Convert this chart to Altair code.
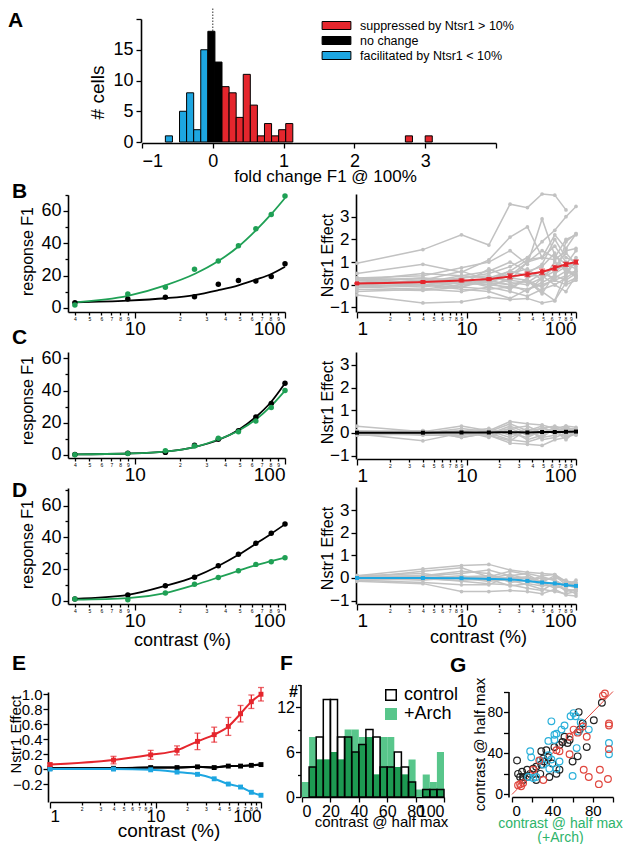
import altair as alt
import pandas as pd

W, H = 616, 836
FONT = "Liberation Sans"
RED = "#E5262D"
BLUE = "#1DA6E1"
GREEN = "#1FA055"
GRAY = "#C2C2C2"
ARCH_LIGHT = "#58C68B"
ARCH_DARK = "#1D9A52"
G_RED = "#E0473F"
G_CYAN = "#2AB0DA"
TITLE_GREEN = "#2DB36B"

CONTRAST = [1, 4, 9, 16, 25, 36, 49, 64, 81, 100]
CONTRAST_B = [4, 9, 16, 25, 36, 49, 64, 81, 100]
LOG_TICKS_LEFT = [4, 5, 6, 7, 8, 9, 10, 20, 30, 40, 50, 60, 70, 80, 90, 100]
LOG_TICKS_FULL = [1, 2, 3, 4, 5, 6, 7, 8, 9, 10, 20, 30, 40, 50, 60, 70, 80, 90, 100]

# ---------------- Panel A : histogram of fold change
A_GROUPS = ["suppressed by Ntsr1 > 10%", "no change", "facilitated by Ntsr1 < 10%"]
A_BIN_START = [-0.67, -0.47, -0.37, -0.27, -0.17, -0.07, 0.03, 0.13, 0.23, 0.33,
               0.43, 0.53, 0.63, 0.73, 0.83, 0.93, 1.03, 2.72, 3.0]
A_COUNT = [1, 5, 8, 2, 15, 18, 13, 9, 8, 4, 11, 6, 1, 3, 1, 2, 3, 1, 1]
A_GROUP = [2, 2, 2, 2, 2, 1, 1, 0, 0, 0, 0, 0, 0, 0, 0, 0, 0, 0, 0]
A_BIN_WIDTH = 0.1
A_DOT_TOP = 22.3

# ---------------- Panels B-D left: response F1 (control black, +Arch green)
B_CTRL = [3.3, 5.6, 6.6, 7.0, 14.6, 17.0, 16.6, 19.4, 27.4]
B_ARCH = [1.9, 8.6, 12.8, 24.0, 29.0, 38.5, 49.0, 57.8, 69.3]
B_CTRL_FIT = [3.5, 4.5, 6.0, 8.0, 11.0, 14.0, 17.5, 21.0, 25.5]
B_ARCH_FIT = [3.5, 7.5, 14.0, 21.0, 29.0, 38.0, 48.0, 58.0, 68.0]

C_CTRL = [0.2, 0.9, 1.5, 6.0, 9.7, 15.0, 23.5, 32.0, 44.5]
C_ARCH = [0.0, 0.8, 2.5, 5.5, 10.3, 14.3, 21.0, 29.4, 40.0]
C_CTRL_FIT = [0.3, 0.8, 2.0, 4.8, 9.2, 15.5, 23.5, 33.0, 44.5]
C_ARCH_FIT = [0.3, 0.8, 2.0, 4.8, 9.5, 15.0, 22.0, 30.5, 40.0]

D_CTRL = [1.2, 3.8, 9.6, 14.9, 22.2, 29.3, 36.3, 42.6, 48.4]
D_ARCH = [1.2, 0.8, 5.0, 10.5, 14.7, 19.0, 23.0, 24.7, 27.2]
D_CTRL_FIT = [1.3, 3.8, 9.5, 15.2, 22.0, 29.0, 36.0, 42.3, 48.2]
D_ARCH_FIT = [0.8, 1.8, 5.0, 10.0, 14.8, 19.0, 22.6, 25.0, 27.2]

# ---------------- Panels B-D right: Nstr1 effect per cell (grey) + population mean
B_LINES = [
    [0.95, 1.55, 2.2, 1.75, 3.55, 3.4, 4.0, 3.95, 3.3, None],
    [0.5, 0.9, 0.55, 1.1, 2.1, 2.55, 1.2, 2.2, 1.6, 2.25],
    [0.3, 0.4, 0.75, 1.0, 1.5, 0.9, 2.9, 1.3, 0.9, 1.5],
    [0.2, 0.1, 0.3, 0.5, 0.8, 1.2, 1.9, 2.4, 3.0, 3.45],
    [-0.45, -0.8, -0.75, -0.55, -0.65, -0.6, -0.8, -0.7, 0.1, 0.3],
    [0.1, 0.0, 0.2, 0.1, 0.4, 1.0, 1.5, 1.2, 2.0, 2.2],
    [-0.2, -0.25, -0.1, -0.2, -0.1, 0.2, -0.3, -0.7, 0.5, 1.2],
    [0.0, 0.2, 0.6, 0.2, 0.0, -0.3, 0.3, 0.8, 1.4, 0.9],
    [0.1, 0.3, 0.0, 0.7, 0.3, 0.5, 0.9, 2.0, 1.2, 1.0],
    [-0.1, 0.0, -0.2, -0.3, -0.6, -0.2, 0.1, 0.4, 0.2, 0.5],
    [0.2, 0.5, 0.4, 0.3, 0.6, 1.1, 1.2, 1.7, 1.0, 0.8],
    [0.0, -0.1, 0.1, 0.0, 0.2, 0.1, 0.5, 0.3, 0.6, 0.4],
    [-0.3, -0.2, -0.3, -0.1, -0.3, -0.5, -0.2, 0.0, 0.3, 0.6],
    [0.1, 0.1, 0.3, 0.4, 0.1, 0.0, 0.3, 0.6, 0.9, 0.7],
    [0.0, 0.2, -0.1, 0.2, 0.5, 0.7, 0.2, 1.0, 0.7, 0.4],
    [-0.1, -0.2, 0.0, 0.1, -0.2, 0.3, 0.6, 0.2, 0.4, 1.1],
    [0.2, 0.3, 0.2, -0.1, 0.3, 0.2, -0.4, 0.5, 0.8, 0.3],
    [0.05, 0.1, 0.4, 0.6, 1.0, 0.6, 0.8, 1.4, 0.5, 0.6],
    [-0.05, 0.0, 0.1, 0.0, -0.1, -0.2, 0.0, 0.2, 0.0, 0.2],
    [0.1, 0.0, -0.1, 0.3, 0.2, 1.0, 1.2, 1.1, 1.5, 1.6],
    [0.3, 0.2, 0.1, 0.2, 0.6, 0.4, 0.4, 0.0, -0.3, 0.4],
    [0.0, 0.1, 0.2, 0.1, 0.0, 0.2, -0.1, 0.3, 1.9, 2.25],
]
C_LINES = [
    [0.3, 0.05, 0.3, 0.1, 0.5, 0.4, 0.35, 0.2, 0.3, 0.25],
    [-0.05, -0.35, 0.0, -0.1, -0.45, -0.5, -0.55, -0.3, -0.2, -0.05],
    [0.0, 0.0, 0.2, 0.05, 0.4, 0.1, 0.2, 0.3, 0.15, 0.2],
    [0.05, 0.1, -0.2, 0.0, -0.3, -0.4, -0.2, -0.1, 0.2, 0.0],
    [-0.1, 0.0, 0.1, -0.2, 0.2, 0.3, 0.0, 0.25, -0.1, 0.1],
    [0.0, -0.1, -0.1, 0.1, 0.0, -0.2, 0.1, 0.0, 0.3, 0.05],
    [0.1, 0.05, 0.05, 0.2, -0.1, 0.2, -0.3, -0.2, 0.0, -0.05],
    [-0.05, -0.05, 0.0, -0.05, 0.3, 0.0, 0.2, 0.1, -0.3, 0.1],
    [0.0, 0.1, -0.2, 0.0, 0.1, -0.3, -0.1, 0.2, 0.1, -0.1],
    [0.05, 0.0, 0.1, 0.1, -0.2, 0.1, 0.3, -0.1, 0.2, 0.15],
    [0.0, 0.0, -0.1, 0.0, 0.2, -0.1, 0.0, 0.1, -0.2, 0.05],
    [-0.1, -0.05, 0.05, -0.1, -0.35, 0.15, -0.2, 0.2, 0.1, 0.0],
]
D_LINES = [
    [0.1, 0.4, 0.55, 0.6, 0.35, 0.25, 0.2, 0.15, -0.2, -0.3],
    [-0.15, -0.25, -0.6, -0.6, -0.55, -0.6, -0.7, -0.5, -0.75, -0.8],
    [0.0, 0.3, 0.45, 0.05, 0.3, 0.15, -0.2, 0.1, -0.3, -0.45],
    [0.05, 0.0, 0.1, -0.1, -0.1, -0.3, -0.5, -0.6, -0.7, -0.6],
    [-0.1, -0.2, -0.3, -0.3, 0.1, 0.2, 0.05, -0.1, -0.4, -0.3],
    [0.0, 0.1, 0.3, 0.2, -0.2, -0.1, -0.3, -0.35, -0.5, -0.7],
    [0.1, 0.05, 0.0, 0.05, 0.0, -0.15, 0.1, 0.15, -0.15, -0.2],
    [-0.05, 0.0, -0.15, -0.25, -0.3, -0.45, -0.55, -0.2, -0.6, -0.5],
    [0.0, -0.1, 0.05, 0.1, -0.05, 0.0, -0.2, -0.45, -0.3, -0.25],
    [0.05, 0.1, 0.2, 0.35, 0.1, -0.2, -0.1, 0.0, -0.1, -0.35],
    [-0.1, -0.05, -0.1, -0.05, -0.35, -0.25, -0.35, -0.3, -0.5, -0.55],
    [0.0, 0.0, 0.0, -0.15, 0.0, 0.05, -0.15, -0.25, -0.25, -0.4],
    [0.1, 0.2, -0.05, 0.0, 0.15, -0.05, 0.0, -0.1, -0.35, -0.1],
]

# ---------------- Panel E: population means
E_RED = [0.06, 0.12, 0.19, 0.25, 0.37, 0.46, 0.57, 0.74, 0.90, 1.00]
E_RED_SEM = [0.02, 0.05, 0.06, 0.06, 0.11, 0.10, 0.12, 0.11, 0.09, 0.09]
E_BLACK = [0.01, 0.01, 0.02, 0.02, 0.03, 0.02, 0.04, 0.04, 0.05, 0.06]
E_BLUE = [0.0, 0.0, -0.01, -0.04, -0.07, -0.13, -0.20, -0.24, -0.31, -0.35]

# ---------------- Panel F: contrast @ half max histograms
F_BIN_START = [0, 5, 10, 15, 20, 25, 30, 35, 40, 45, 50, 55, 60, 65, 70, 75, 80, 85, 90, 95]
F_CONTROL = [0, 4, 8, 13, 13, 8, 8, 6, 7, 9, 8, 4, 4, 6, 4, 2, 0, 1, 1, 1]
F_ARCH = [2, 8, 5, 5, 6, 5, 9, 9, 8, 8, 3, 8, 8, 4, 3, 5, 1, 3, 2, 6]
F_SERIES = ["control", "+Arch"]
F_BIN_WIDTH = 5

# ---------------- Panel G: scatter
G_BLACK_X = [89, 66, 81, 70, 67, 57, 55, 50, 47, 42, 34, 29, 36, 31, 32, 29, 24, 21, 15, 10,
             6, 8, 11, 15, 18, 5, 65, 74, 60, 44, 37, 28, 47, 24, 11, 40, 52]
G_BLACK_Y = [89, 80, 72, 69, 63, 53, 50, 51, 48, 46, 43, 42, 36, 35, 32, 29, 27, 25, 24, 22,
             20, 17, 17, 17, 20, 33, 37, 46, 32, 20, 17, 20, 24, 14, 14, 30, 56]
G_CYAN_X = [39, 58, 61, 63, 68, 66, 76, 52, 42, 44, 42, 36, 49, 18, 19, 16, 21, 24, 28, 39,
            44, 47, 64, 60, 96, 96, 36, 31, 37]
G_CYAN_Y = [71, 76, 79, 76, 70, 61, 63, 67, 58, 59, 53, 52, 63, 42, 36, 17, 16, 17, 33, 34,
            25, 32, 45, 18, 50, 39, 38, 29, 25]
G_RED_X = [92, 90, 96, 96, 96, 87, 95, 86, 76, 71, 57, 47, 44, 31, 11, 6, 8, 27, 21, 57,
           65, 61, 74, 70, 9]
G_RED_Y = [98, 96, 69, 67, 44, 24, 15, 10, 17, 24, 39, 42, 43, 14, 11, 9, 10, 33, 24, 56,
           60, 63, 56, 66, 8]
G_DIAG = [0, 100]

PANEL_LETTERS = ["A", "B", "C", "D", "E", "F", "G"]

# ---------------- layout (pixel geometry, chart coordinates)
LETTER_POS = {"A": (0, 19), "B": (4, 190), "C": (4, 336), "D": (4, 489),
              "E": (4, 662), "F": (272, 662), "G": (442, 664)}


def lin_scale(lo, hi, r0, r1):
    return alt.Scale(domain=[lo, hi], range=[r0, r1], nice=False, zero=False)


def log_scale(lo, hi, r0, r1):
    return alt.Scale(type="log", domain=[lo, hi], range=[r0, r1], nice=False)


MAJOR = "datum.value == 1 || datum.value == 10 || datum.value == 100"


def bottom_axis(y_line, title=None, title_pos=None, title_size=17, **kw):
    if title_pos is not None:
        kw.setdefault("titleBaseline", "middle")
        kw.update(titleX=title_pos[0], titleY=title_pos[1] - y_line, titleAlign="center")
    return alt.Axis(orient="bottom", offset=y_line - H, title=title, titleFontSize=title_size,
                    labelOverlap=False, **kw)


def left_axis(x_line, title=None, title_pos=None, title_size=16, **kw):
    if title_pos is not None:
        kw.setdefault("titleBaseline", "middle")
        kw.update(titleX=title_pos[0] - x_line, titleY=title_pos[1], titleAlign="center")
    return alt.Axis(orient="left", offset=-x_line, title=title, titleFontSize=title_size,
                    labelOverlap=False, **kw)


def log_x_axis(y_line, values, big, title=None, title_pos=None, title_size=18, major_pad=1):
    return bottom_axis(
        y_line, title, title_pos, title_size, values=values,
        labelExpr=f"({MAJOR}) ? format(datum.value, 'd') : "
                  "format(round(datum.value / pow(10, floor(log(datum.value) / LN10 + 0.000001))), 'd')",
        labelFontSize={"condition": {"test": MAJOR, "value": big}, "value": 5},
        labelPadding={"condition": {"test": MAJOR, "value": major_pad}, "value": 1},
        tickSize={"condition": {"test": MAJOR, "value": 6}, "value": 3},
        labelBaseline="top")


units = []

# ---------------- Panel A
xsA = lin_scale(-1, 4, 134, 488)
ysA = lin_scale(0, 20, 134, 11)
dfA = pd.DataFrame({"start": A_BIN_START, "count": A_COUNT,
                    "group": [A_GROUPS[g] for g in A_GROUP]})
units.append(alt.Chart(pd.DataFrame({"x": [0], "y0": [0], "y1": [A_DOT_TOP]})).mark_rule(
    color="#333333", strokeWidth=1, strokeDash=[1.5, 1.5]).encode(
    x=alt.X("x:Q", scale=xsA, axis=bottom_axis(
        135, "fold change F1 @ 100%", (317, 168), 17, values=[-1, 0, 1, 2, 3, 4],
        labelExpr="datum.value == 4 ? '' : datum.label", labelFontSize=18, tickSize=5,
        labelPadding=4)),
    y=alt.Y("y0:Q", scale=ysA, axis=left_axis(
        133, "# cells", (89, 84), 19, values=[0, 5, 10, 15, 20],
        labelExpr="datum.value == 20 ? '' : datum.label", labelFontSize=18, tickSize=5,
        labelPadding=3)),
    y2="y1:Q"))
units.append(alt.Chart(dfA).transform_calculate(
    end=f"datum.start + {A_BIN_WIDTH}", base="0").mark_bar(
    stroke="black", strokeWidth=1, opacity=1).encode(
    x=alt.X("start:Q", scale=xsA, axis=None),
    x2="end:Q",
    y=alt.Y("count:Q", scale=ysA, axis=None),
    y2="base:Q",
    color=alt.Color("group:N", scale=alt.Scale(domain=A_GROUPS, range=[RED, "black", BLUE]),
                    legend=alt.Legend(orient="none", legendX=320, legendY=9, title=None,
                                      symbolType="M-1.8,-0.5H1.8V0.5H-1.8Z", symbolSize=256,
                                      symbolStrokeColor="black", symbolStrokeWidth=1,
                                      symbolOpacity=1, labelFontSize=12.5, labelFont=FONT,
                                      labelLimit=0, labelOffset=15, rowPadding=0, padding=0))))


# ---------------- response panels (left)
def response_panel(ctrl, arch, ctrl_fit, arch_fit, ydom, yrange, yvalues, ytitle_y,
                   x_title=None):
    xs = log_scale(3.6, 100, 60, 277)
    ys = lin_scale(ydom[0], ydom[1], yrange[0], yrange[1])
    df = pd.DataFrame({"c": CONTRAST_B, "ctrl": ctrl, "arch": arch,
                       "ctrl_fit": ctrl_fit, "arch_fit": arch_fit})
    base = alt.Chart(df)
    xa = log_x_axis(yrange[0], LOG_TICKS_LEFT, 19, x_title, (174, 632), 18)
    major = "datum.value % 20 == 0"
    ya = left_axis(60, "response F1", (19.5, ytitle_y), 16, values=yvalues,
                   labelExpr=f"({major}) ? datum.label : ''", labelFontSize=18, labelPadding=2,
                   tickSize={"condition": {"test": major, "value": 5}, "value": 3})
    return [
        base.mark_line(color="black", strokeWidth=1.8, interpolate="monotone").encode(
            x=alt.X("c:Q", scale=xs, axis=xa), y=alt.Y("ctrl_fit:Q", scale=ys, axis=ya)),
        base.mark_line(color=GREEN, strokeWidth=1.8, interpolate="monotone").encode(
            x=alt.X("c:Q", scale=xs, axis=None), y=alt.Y("arch_fit:Q", scale=ys, axis=None)),
        base.mark_circle(color="black", size=30, opacity=1).encode(
            x=alt.X("c:Q", scale=xs, axis=None), y=alt.Y("ctrl:Q", scale=ys, axis=None)),
        base.mark_circle(color=GREEN, size=30, opacity=1).encode(
            x=alt.X("c:Q", scale=xs, axis=None), y=alt.Y("arch:Q", scale=ys, axis=None)),
    ]


def mean_layers(xs, ys, mean, color, sem=None, size=20, width=2):
    data = {"c": CONTRAST, "m": mean}
    if sem is not None:
        data["s"] = sem
    base = alt.Chart(pd.DataFrame(data))
    out = [
        base.mark_line(color=color, strokeWidth=width, interpolate="monotone").encode(
            x=alt.X("c:Q", scale=xs, axis=None), y=alt.Y("m:Q", scale=ys, axis=None)),
        base.mark_point(shape="square", filled=True, size=size, color=color, opacity=1).encode(
            x=alt.X("c:Q", scale=xs, axis=None), y=alt.Y("m:Q", scale=ys, axis=None)),
    ]
    if sem is not None:
        eb = base.transform_calculate(lo="datum.m - datum.s", hi="datum.m + datum.s")
        out += [
            eb.mark_rule(color=color, strokeWidth=1.3).encode(
                x=alt.X("c:Q", scale=xs, axis=None), y=alt.Y("lo:Q", scale=ys, axis=None),
                y2="hi:Q"),
            eb.mark_tick(color=color, orient="horizontal", size=6, thickness=1.3).encode(
                x=alt.X("c:Q", scale=xs, axis=None), y=alt.Y("lo:Q", scale=ys, axis=None)),
            eb.mark_tick(color=color, orient="horizontal", size=6, thickness=1.3).encode(
                x=alt.X("c:Q", scale=xs, axis=None), y=alt.Y("hi:Q", scale=ys, axis=None)),
        ]
    return out


# ---------------- effect panels (right)
def effect_panel(lines, mean, color, ydom, yrange, ytitle_y, sem=None, x_title=None):
    xs = log_scale(1, 100, 349, 568)
    ys = lin_scale(ydom[0], ydom[1], yrange[0], yrange[1])
    rows = []
    for i, line in enumerate(lines):
        for c, v in zip(CONTRAST, line):
            if v is not None:
                rows.append({"id": i, "c": c, "v": v})
    dl = pd.DataFrame(rows)
    xa = log_x_axis(yrange[0], LOG_TICKS_FULL, 19, x_title, (470, 629), 18)
    ya = left_axis(348, "Nstr1 Effect", (319.5, ytitle_y), 16, values=[-1, 0, 1, 2, 3],
                   labelFontSize=17, labelPadding=2, tickSize=5)
    return [
        alt.Chart(dl).mark_line(color=GRAY, strokeWidth=1.5).encode(
            x=alt.X("c:Q", scale=xs, axis=xa), y=alt.Y("v:Q", scale=ys, axis=ya),
            detail="id:N"),
        alt.Chart(dl).mark_circle(color=GRAY, size=14, opacity=1).encode(
            x=alt.X("c:Q", scale=xs, axis=None), y=alt.Y("v:Q", scale=ys, axis=None)),
    ] + mean_layers(xs, ys, mean, color, sem, size=16)


units += response_panel(B_CTRL, B_ARCH, B_CTRL_FIT, B_ARCH_FIT, (-2.5, 70), (304, 186.8),
                        [0, 10, 20, 30, 40, 50, 60, 70], 243)
units += response_panel(C_CTRL, C_ARCH, C_CTRL_FIT, C_ARCH_FIT, (-2, 64), (450, 344),
                        [0, 10, 20, 30, 40, 50, 60], 392)
units += response_panel(D_CTRL, D_ARCH, D_CTRL_FIT, D_ARCH_FIT, (-1.9, 71), (596, 480),
                        [0, 10, 20, 30, 40, 50, 60, 70], 536, x_title="contrast (%)")
units += effect_panel(B_LINES, E_RED, RED, (-1.2, 4.0), (304, 186), 247, sem=E_RED_SEM)
units += effect_panel(C_LINES, E_BLACK, "black", (-1.15, 3.57), (451, 344), 394)
units += effect_panel(D_LINES, E_BLUE, BLUE, (-1.15, 4.02), (596, 479), 540,
                      x_title="contrast (%)")

# ---------------- Panel E
xsE = log_scale(1, 100, 42, 253)
ysE = lin_scale(-0.44, 1.03, 794, 684)
units.append(alt.Chart(pd.DataFrame({"c": CONTRAST, "m": E_BLACK})).mark_line(
    color="black", strokeWidth=2).encode(
    x=alt.X("c:Q", scale=xsE, axis=log_x_axis(794, LOG_TICKS_FULL, 17, "contrast (%)",
                                              (160.5, 822), 19, major_pad=0)),
    y=alt.Y("m:Q", scale=ysE, axis=left_axis(
        40, "Nstr1 Effect", (12, 726), 15, titleBaseline="alphabetic",
        values=[-0.2, 0, 0.2, 0.4, 0.6, 0.8, 1.0],
        labelExpr="datum.value == 0 ? '0' : format(datum.value, '.1f')",
        labelFontSize=15, labelPadding=1, tickSize=5))))
units += mean_layers(xsE, ysE, E_BLACK, "black", size=24)
units += mean_layers(xsE, ysE, E_BLUE, BLUE, size=24)
units += mean_layers(xsE, ysE, E_RED, RED, E_RED_SEM, size=24)

# ---------------- Panel F
xsF = lin_scale(0, 100, 294, 436)
ysF = lin_scale(0, 15, 789, 676.5)
dfF = pd.DataFrame({"start": F_BIN_START, "control": F_CONTROL, "arch": F_ARCH})
baseF = alt.Chart(dfF).transform_calculate(
    end=f"datum.start + {F_BIN_WIDTH}", both="min(datum.control, datum.arch)",
    series="'control'", base="0")
fmajor = "datum.value % 6 == 0"
units.append(baseF.mark_bar(color=ARCH_LIGHT, opacity=1).encode(
    x=alt.X("start:Q", scale=xsF, axis=bottom_axis(
        789, "contrast @ half max", (373, 813), 15, values=[0, 20, 40, 60, 80, 100],
        labelFontSize=16, tickSize=5, labelPadding=1)),
    x2="end:Q",
    y=alt.Y("arch:Q", scale=ysF, axis=alt.Axis(
        orient="left", offset=-292.5, values=[0, 3, 6, 9, 12, 15],
        labelExpr=f"({fmajor}) ? datum.label : ''",
        tickSize={"condition": {"test": fmajor, "value": 5}, "value": 3},
        labelFontSize=16, labelPadding=1, title="#", titleAngle=0, titleFontSize=16,
        titleFontWeight="bold", titleX=-7.5, titleY=683, titleAlign="center",
        titleBaseline="middle")),
    y2="base:Q"))
units.append(baseF.mark_bar(color=ARCH_DARK, opacity=1).encode(
    x=alt.X("start:Q", scale=xsF, axis=None), x2="end:Q",
    y=alt.Y("both:Q", scale=ysF, axis=None), y2="base:Q"))
fLegend = alt.Legend(orient="none", legendX=374, legendY=678, title=None, symbolType="square",
                     symbolSize=110, symbolStrokeWidth=1.5, labelFontSize=18, labelFont=FONT,
                     labelOffset=4, rowPadding=1, padding=0)
units.append(baseF.transform_filter("datum.control > 0").mark_bar(strokeWidth=1.5).encode(
    x=alt.X("start:Q", scale=xsF, axis=None), x2="end:Q",
    y=alt.Y("control:Q", scale=ysF, axis=None), y2="base:Q",
    fill=alt.Fill("series:N", scale=alt.Scale(domain=F_SERIES, range=["transparent", ARCH_LIGHT]),
                  legend=fLegend),
    stroke=alt.Stroke("series:N", scale=alt.Scale(domain=F_SERIES, range=["black", ARCH_LIGHT]),
                      legend=fLegend)))

# ---------------- Panel G
xsG = lin_scale(0, 100, 504, 605)
ysG = lin_scale(-2.5, 100, 789, 683.5)
dfG = pd.concat([
    pd.DataFrame({"x": G_BLACK_X, "y": G_BLACK_Y, "s": "black"}),
    pd.DataFrame({"x": G_CYAN_X, "y": G_CYAN_Y, "s": "cyan"}),
    pd.DataFrame({"x": G_RED_X, "y": G_RED_Y, "s": "red"}),
])
gmajor = "datum.value % 40 == 0"
units.append(alt.Chart(pd.DataFrame({"a": [G_DIAG[0]], "b": [G_DIAG[1]]})).mark_rule(
    color=G_RED, strokeWidth=1).encode(
    x=alt.X("a:Q", scale=xsG, axis=bottom_axis(
        789, ["contrast @ half max", "(+Arch)"], (552, 815), 14, values=[0, 20, 40, 60, 80, 100],
        labelExpr=f"({gmajor}) ? datum.label : ''", titleColor=TITLE_GREEN,
        titleLineHeight=14, labelFontSize=15, tickSize=5, labelPadding=1)),
    x2="b:Q",
    y=alt.Y("a:Q", scale=ysG, axis=left_axis(
        500.5, "contrast @ half max", (471, 736), 15, values=[0, 20, 40, 60, 80, 100],
        labelExpr=f"({gmajor}) ? datum.label : ''", labelFontSize=14, tickSize=5,
        labelPadding=1)),
    y2="b:Q"))
units.append(alt.Chart(dfG).mark_point(filled=False, size=45, strokeWidth=1.2, opacity=1).encode(
    x=alt.X("x:Q", scale=xsG, axis=None), y=alt.Y("y:Q", scale=ysG, axis=None),
    color=alt.Color("s:N", scale=alt.Scale(domain=["black", "cyan", "red"],
                                           range=["#222222", G_CYAN, G_RED]), legend=None)))

# ---------------- panel letters
for L in PANEL_LETTERS:
    px, py = LETTER_POS[L]
    units.append(alt.Chart(pd.DataFrame({"t": [L]})).mark_text(
        fontSize=21, fontWeight="bold", font=FONT, align="left", baseline="alphabetic",
        color="black").encode(text="t:N", x=alt.value(px), y=alt.value(py)))

chart = alt.layer(*units).resolve_scale(
    x="independent", y="independent", color="independent", fill="independent",
    stroke="independent"
).resolve_axis(x="independent", y="independent").resolve_legend(
    color="independent", fill="independent", stroke="independent"
).properties(
    width=W, height=H, padding=0, autosize=alt.AutoSizeParams(type="none")
).configure_view(strokeOpacity=0).configure_axis(
    grid=False, domainColor="black", domainWidth=1.6, tickColor="black", tickWidth=1.3,
    labelColor="black", titleColor="black", labelFont=FONT, titleFont=FONT,
    titleFontWeight="normal"
).configure_legend(labelColor="black")

chart.save("out.html", embed_options={"renderer": "svg", "actions": False})
